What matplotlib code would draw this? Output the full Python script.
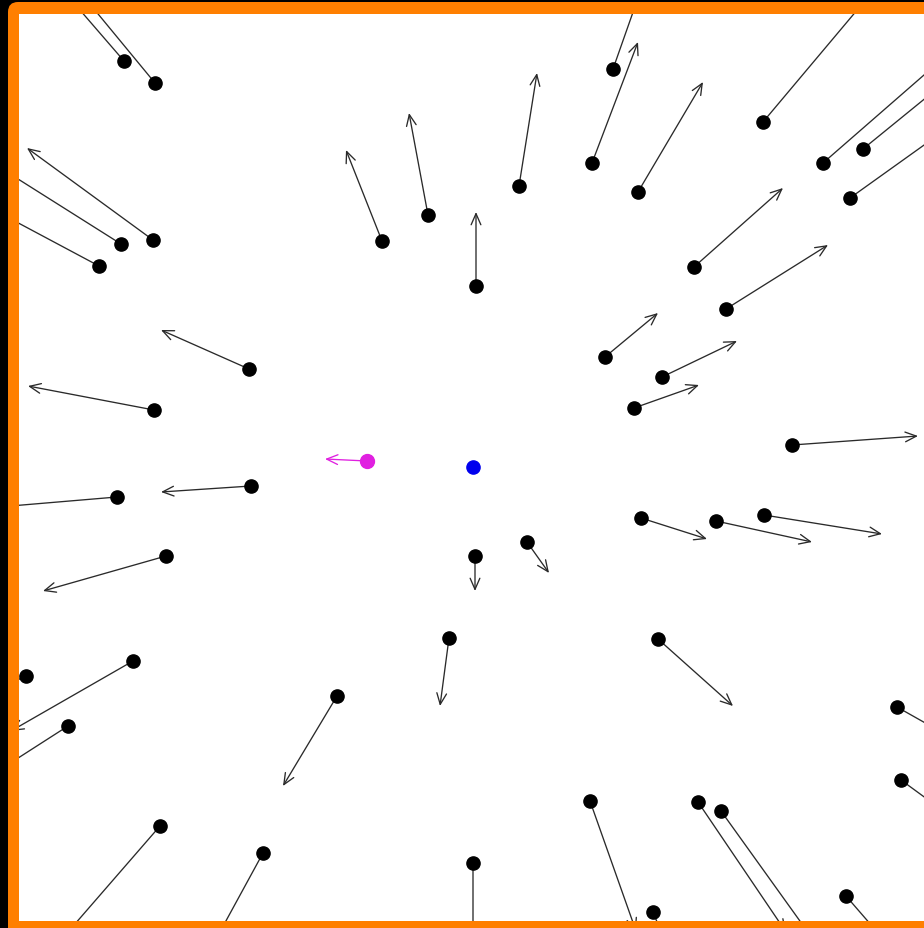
import matplotlib
matplotlib.use("Agg")
import matplotlib.pyplot as plt
from matplotlib.patches import FancyArrowPatch, FancyBboxPatch

# Star positions (screen pixels) and their displacement vectors
star_x = [124, 155, 153, 121, 99, 249, 154, 251, 117, 166, 26, 133, 68,
          160, 263, 337, 449, 475, 527, 473, 590, 653, 698, 721, 846, 901,
          897, 658, 641, 716, 764, 792, 634, 662, 605, 726, 694, 638, 592,
          613, 519, 476, 428, 382, 763, 823, 863, 850]
star_y = [62, 84, 241, 245, 267, 370, 411, 487, 498, 557, 677, 662, 727,
          827, 854, 697, 639, 557, 543, 864, 802, 913, 803, 812, 897, 781,
          708, 640, 519, 522, 516, 446, 409, 378, 358, 310, 268, 193, 164,
          70, 187, 287, 216, 242, 123, 164, 150, 199]
flow_dx = [-140, -127, -126, -141, -150, -88, -126, -90, -142, -123, -179, -122, -162,
           -125, -84, -54, -9, 0, 22, 0, 46, 72, 88, 99, 149, 171,
           170, 75, 66, 96, 118, 126, 65, 75, 53, 102, 89, 65, 46,
           56, 18, 0, -19, -36, 116, 140, 156, 151]
flow_dy = [-162, -154, -92, -89, -80, -39, -24, 6, 12, 35, 84, 70, 104,
           144, 154, 90, 68, 35, 31, 158, 130, 178, 130, 138, 172, 125,
           96, 67, 21, 21, 19, -9, -23, -36, -44, -64, -79, -110, -121,
           -159, -113, -74, -102, -91, -138, -122, -127, -108]

# Focus of expansion and the tracked target
focus_x, focus_y = 473, 468
target_x, target_y = 367, 462
target_dx, target_dy = -42, -2

W, H = 924, 929
fig = plt.figure(figsize=(W / 100, H / 100), dpi=100, facecolor="black")

# Orange rounded frame behind the plotting area
bg = fig.add_axes([0, 0, 1, 1])
bg.set_xlim(0, W)
bg.set_ylim(H, 0)
bg.axis("off")
bg.add_patch(FancyBboxPatch((8, 3), 960, 960,
                            boxstyle="round,pad=0,rounding_size=10",
                            facecolor="#ff7f00", edgecolor="none"))

# White plotting area
left, top, right, bottom = 19, 15, 924, 922
ax = fig.add_axes([left / W, (H - bottom) / H, (right - left) / W, (bottom - top) / H])
ax.set_facecolor("white")
ax.set_xlim(left, right)
ax.set_ylim(bottom, top)
ax.set_xticks([])
ax.set_yticks([])
for s in ax.spines.values():
    s.set_visible(False)

arrow_style = "->,head_length=0.8,head_width=0.35"
for x, y, dx, dy in zip(star_x, star_y, flow_dx, flow_dy):
    ax.add_patch(FancyArrowPatch((x, y), (x + dx, y + dy), arrowstyle=arrow_style,
                                 mutation_scale=10, lw=0.95, color="#2a2a2a",
                                 shrinkA=0, shrinkB=0, zorder=2))
ax.plot(star_x, star_y, "o", ms=9.5, color="black", zorder=3)

ax.add_patch(FancyArrowPatch((target_x, target_y),
                             (target_x + target_dx, target_y + target_dy),
                             arrowstyle=arrow_style, mutation_scale=10, lw=0.95,
                             color="#e020e0", shrinkA=0, shrinkB=0, zorder=2))
ax.plot([target_x], [target_y], "o", ms=10, color="#e020e0", zorder=3)
ax.plot([focus_x], [focus_y], "o", ms=9.5, color="#0000ee", zorder=3)

fig.savefig("out.png", dpi=100, facecolor="black")
